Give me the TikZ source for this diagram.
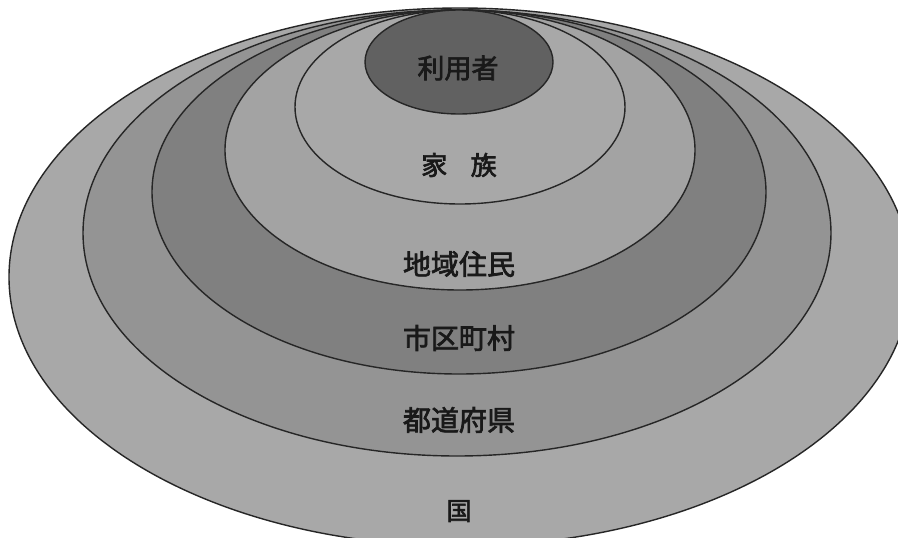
\documentclass[tikz,border=0pt]{standalone}
\usepackage{fontspec}
\newfontfamily\cjk{Noto Sans CJK JP}[AutoFakeBold=2.5]
\begin{document}
\begin{tikzpicture}[x=1pt,y=-1pt,
  ring/.style={draw=black!85, line width=1.4pt},
  lbl/.style={font=\cjk\bfseries\fontsize{28}{30}\selectfont, text=black!90, inner sep=0pt}]
\useasboundingbox (0,0) rectangle (898,538);
\clip (0,0) rectangle (898,538);
\fill[white] (0,0) rectangle (898,538);
\filldraw[ring, fill=black!34] (460,277) ellipse [x radius=451pt, y radius=269pt];
\filldraw[ring, fill=black!42] (457,233) ellipse [x radius=374pt, y radius=223pt];
\filldraw[ring, fill=black!50] (459,192) ellipse [x radius=307pt, y radius=182pt];
\filldraw[ring, fill=black!36] (460,150) ellipse [x radius=235pt, y radius=140pt];
\filldraw[ring, fill=black!34] (460,107) ellipse [x radius=165pt, y radius=97pt];
\filldraw[ring, fill=black!62] (459,62) ellipse [x radius=94pt, y radius=52pt];
\node[lbl, font=\cjk\bfseries\fontsize{27}{30}\selectfont] (riyo) at (458,68) {利用者};
\node[lbl, font=\cjk\bfseries\fontsize{26}{30}\selectfont] (kazoku) at (459,165) {家\hspace{0.9em}族};
\node[lbl] (chiiki) at (459,264) {地域住民};
\node[lbl] (shiku) at (459,338) {市区町村};
\node[lbl] (todo) at (459,420) {都道府県};
\node[lbl, font=\cjk\bfseries\fontsize{25}{30}\selectfont] (kuni) at (459,511) {国};
\end{tikzpicture}
\end{document}
